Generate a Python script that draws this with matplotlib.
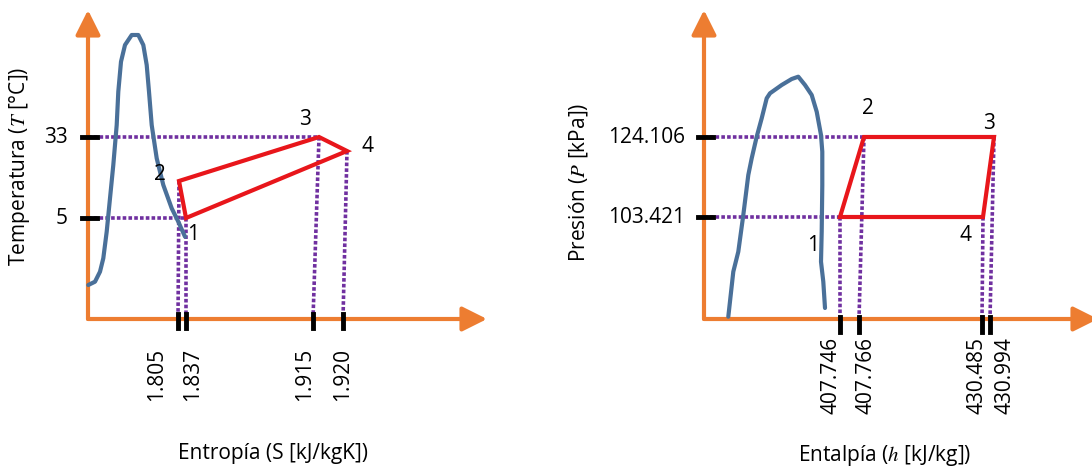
import numpy as np
import matplotlib
matplotlib.use("Agg")
import matplotlib.pyplot as plt

plt.rcParams["font.family"] = ["Open Sans", "DejaVu Sans"]
plt.rcParams["mathtext.fontset"] = "stix"

# ------------------------------------------------------------
# Data (schematic units, origin at the corner of each diagram)
# ------------------------------------------------------------

# T-s diagram
ts_dome_s = [0.3, 7, 12, 15.3, 18.7, 22, 25.3, 28.7, 30.3, 33, 37, 43.7, 50.3,
             55.3, 58.7, 61, 63.7, 68.7, 75.3, 83.7, 90.3, 97]
ts_dome_t = [34, 37.3, 47.3, 60.7, 87.3, 120.7, 154, 194, 227.3, 257.3, 274, 284, 284,
             274, 254, 227.3, 194, 160.7, 134, 110.7, 97.3, 82.3]
ts_cycle_s = [98, 91, 231, 259]        # points 1, 2, 3, 4
ts_cycle_t = [101, 138, 182, 168]
ts_xtick_pos = [90, 98, 225, 255]
ts_xtick_labels = ["1.805", "1.837", "1.915", "1.920"]
ts_xtick_from = [1, 0, 2, 3]           # cycle point each guide line starts from
ts_ytick_pos = [182, 101]
ts_ytick_labels = ["33", "5"]
ts_ytick_to = [2, 0]

# P-h diagram
ph_dome_h = [24.3, 29.3, 34.3, 39.3, 44.3, 47.7, 52.7, 57.7, 62.7, 66, 77.7, 87.7,
             94.3, 101, 107.7, 112.7, 117, 118.3, 118.3, 117.7, 117, 119.3, 121]
ph_dome_p = [2.3, 47.3, 67.3, 104, 144, 160.7, 182.3, 200.7, 220.7, 225.7, 234, 240,
             242.3, 234, 224, 207.3, 184, 167.3, 134, 87.3, 57.3, 37.3, 11]
ph_cycle_h = [136, 160, 290, 279]      # points 1, 2, 3, 4
ph_cycle_p = [102, 182, 182, 102]
ph_xtick_pos = [136, 155, 278, 286]
ph_xtick_labels = ["407.746", "407.766", "430.485", "430.994"]
ph_xtick_from = [0, 1, 3, 2]
ph_ytick_pos = [182, 102]
ph_ytick_labels = ["124.106", "103.421"]
ph_ytick_to = [1, 0]

point_names = ["1", "2", "3", "4"]

# ------------------------------------------------------------
# Styling
# ------------------------------------------------------------
ORANGE = "#ED7D31"
BLUE = "#4A7099"
RED = "#E8161B"
PURPLE = "#7030A0"
FS = 15

W, H = 1092, 469
fig = plt.figure(figsize=(W / 100, H / 100), dpi=100)


def make_axes(x0_px, x1_px, origin):
    ox, oy = origin
    ax = fig.add_axes([x0_px / W, 0, (x1_px - x0_px) / W, 1])
    ax.set_xlim(x0_px - ox, x1_px - ox)
    ax.set_ylim(-(H - oy), oy)
    ax.axis("off")
    return ax


def draw_diagram(ax, dome_x, dome_y, cyc_x, cyc_y,
                 xt_pos, xt_lab, xt_from, yt_pos, yt_lab, yt_to,
                 x_end, y_end, xtick_span, ytick_span,
                 xlab_off, ylab_off, pt_off, xlabel, ylabel, xlab_pos, ylab_pos):
    # axes arrows
    for tip in [(x_end, 0), (0, y_end)]:
        ax.annotate("", xy=tip, xytext=(0, 0), annotation_clip=False,
                    arrowprops=dict(arrowstyle="-|>,head_length=1.0,head_width=0.5",
                                    color=ORANGE, lw=3, mutation_scale=15,
                                    shrinkA=0, shrinkB=0), zorder=2)

    # saturation dome
    ax.plot(dome_x, dome_y, color=BLUE, lw=3, solid_capstyle="round",
            solid_joinstyle="round", zorder=3)

    # guide lines
    for pos, i in zip(xt_pos, xt_from):
        ax.plot([cyc_x[i], pos], [cyc_y[i], 0], color=PURPLE, lw=2.6,
                ls=(0, (1, 0.6)), zorder=1)
    for pos, i in zip(yt_pos, yt_to):
        ax.plot([0, cyc_x[i]], [pos, cyc_y[i]], color=PURPLE, lw=2.6,
                ls=(0, (1, 0.6)), zorder=1)

    # cycle
    ax.fill(cyc_x, cyc_y, facecolor="none", edgecolor=RED, lw=3, zorder=4)

    # ticks
    for pos, lab, dx in zip(xt_pos, xt_lab, xlab_off[0]):
        ax.plot([pos, pos], xtick_span, color="black", lw=3.5, zorder=5)
        ax.text(pos + dx, xlab_off[1], lab, rotation=90, ha="center", va="top",
                fontsize=FS)
    for pos, lab in zip(yt_pos, yt_lab):
        ax.plot(ytick_span, [pos, pos], color="black", lw=3.5, zorder=5)
        ax.text(ylab_off, pos, lab, ha="right", va="center", fontsize=FS)

    # point numbers
    for name, (dx, dy) in zip(point_names, pt_off):
        ax.text(dx, dy, name, ha="center", va="center", fontsize=FS)

    ax.text(*xlab_pos, xlabel, ha="center", va="center", fontsize=FS)
    ax.text(*ylab_pos, ylabel, ha="center", va="center", rotation=90, fontsize=FS)


ax1 = make_axes(0, 546, (88, 319))
draw_diagram(ax1, ts_dome_s, ts_dome_t, ts_cycle_s, ts_cycle_t,
             ts_xtick_pos, ts_xtick_labels, ts_xtick_from,
             ts_ytick_pos, ts_ytick_labels, ts_ytick_to,
             x_end=399, y_end=309, xtick_span=[5, -9], ytick_span=[-6, 9],
             xlab_off=([-21, 7, -8, 0], -29), ylab_off=-20,
             pt_off=[(105, 85), (72, 145), (217, 200), (280, 173)],
             xlabel="Entropía (S [kJ/kgK])", ylabel="Temperatura ($T$ [°C])",
             xlab_pos=(185, -134), ylab_pos=(-68, 153))

ax2 = make_axes(546, 1092, (704, 319))
draw_diagram(ax2, ph_dome_h, ph_dome_p, ph_cycle_h, ph_cycle_p,
             ph_xtick_pos, ph_xtick_labels, ph_xtick_from,
             ph_ytick_pos, ph_ytick_labels, ph_ytick_to,
             x_end=394, y_end=309, xtick_span=[2, -13], ytick_span=[-6, 9],
             xlab_off=([-9, 7, -5, 15], -18), ylab_off=-19,
             pt_off=[(109, 74), (164, 211), (285, 196), (262, 84)],
             xlabel="Entalpía ($h$ [kJ/kg])", ylabel="Presión ($P$ [kPa])",
             xlab_pos=(181, -136), ylab_pos=(-126, 137))

fig.savefig("out.png", dpi=100)
